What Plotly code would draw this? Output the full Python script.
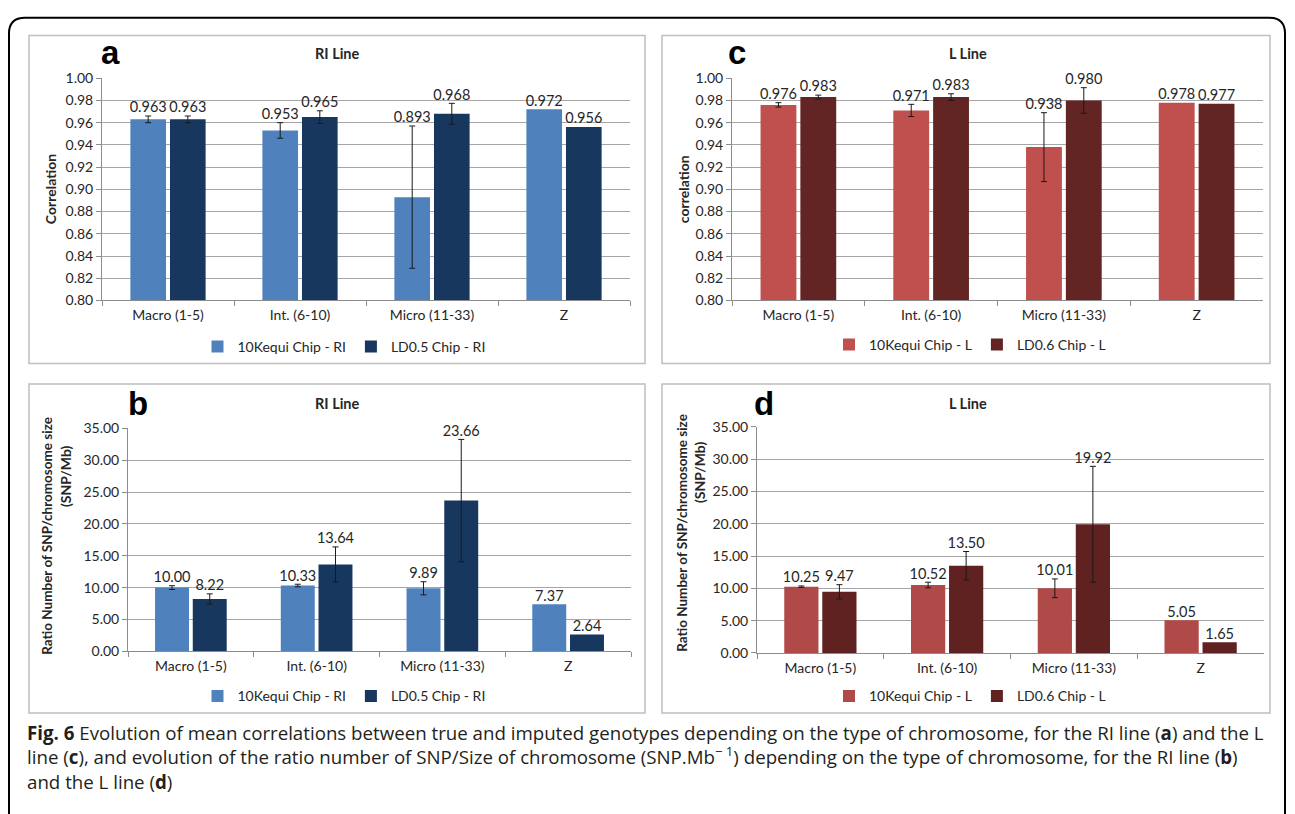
import plotly.graph_objects as go

W, H = 1295, 814

categories = ["Macro (1-5)", "Int. (6-10)", "Micro (11-33)", "Z"]

# ошибки заданы только для первых трёх групп: у Z усов нет

# a - RI line, correlation
corr_ri_10k = [0.963, 0.953, 0.893, 0.972]
corr_ri_10k_err = [0.003, 0.007, 0.064]
corr_ri_ld = [0.963, 0.965, 0.968, 0.956]
corr_ri_ld_err = [0.003, 0.0057, 0.0094]

# c - L line, correlation
corr_l_10k = [0.976, 0.971, 0.938, 0.978]
corr_l_10k_err = [0.002, 0.0055, 0.031]
corr_l_ld = [0.983, 0.983, 0.980, 0.977]
corr_l_ld_err = [0.0018, 0.003, 0.0115]

# b - RI line, SNP/Mb
ratio_ri_10k = [10.00, 10.33, 9.89, 7.37]
ratio_ri_10k_err = [0.3, 0.2, 1.03]
ratio_ri_ld = [8.22, 13.64, 23.66, 2.64]
ratio_ri_ld_err = [0.8, 2.75, 9.6]

# d - L line, SNP/Mb
ratio_l_10k = [10.25, 10.52, 10.01, 5.05]
ratio_l_10k_err = [0.12, 0.43, 1.45]
ratio_l_ld = [9.47, 13.50, 19.92, 1.65]
ratio_l_ld_err = [1.1, 2.2, 8.96]

TXT = "#262626"
AXIS = "#8c8c8c"
GRID = "#a6a6a6"
FONT = "Lato"


def fx(p):
    return p / W


def fy(p):
    return 1 - p / H


# панели: буква, заголовок, серии, оформление осей
panels = [
    dict(letter="a", title="RI Line", sfx="", leg="legend",
         series=[("10Kequi Chip - RI", corr_ri_10k, corr_ri_10k_err, "#4f81bd"),
                 ("LD0.5 Chip - RI", corr_ri_ld, corr_ri_ld_err, "#17375e")],
         fmt="{:.3f}", yrange=[0.8, 1.0], dtick=0.02,
         xdom=(102, 630), ydom=(70.7, 297.7), box=(29, 27, 645, 362),
         letter_xy=(110, 44), title_xy=(337, 45), leg_xy=(344, 345),
         ytitle=[("Correlation", 50, 184)]),
    dict(letter="b", title="RI Line", sfx="2", leg="legend2",
         series=[("10Kequi Chip - RI", ratio_ri_10k, ratio_ri_10k_err, "#4f81bd"),
                 ("LD0.5 Chip - RI", ratio_ri_ld, ratio_ri_ld_err, "#17375e")],
         fmt="{:.2f}", yrange=[0, 35], dtick=5,
         xdom=(128, 631), ydom=(428.3, 656), box=(29, 383, 645, 719),
         letter_xy=(138, 403), title_xy=(337, 403), leg_xy=(344, 702),
         ytitle=[("Ratio Number of SNP/chromosome size", 47, 538), ("(SNP/Mb)", 65, 477)]),
    dict(letter="c", title="L Line", sfx="3", leg="legend3",
         series=[("10Kequi Chip - L", corr_l_10k, corr_l_10k_err, "#c0504d"),
                 ("LD0.6 Chip - L", corr_l_ld, corr_l_ld_err, "#632523")],
         fmt="{:.3f}", yrange=[0.8, 1.0], dtick=0.02,
         xdom=(732, 1263), ydom=(70.7, 297.7), box=(662, 27, 1270, 362),
         letter_xy=(737, 44), title_xy=(968, 45), leg_xy=(970, 343),
         ytitle=[("correlation", 683, 184)]),
    dict(letter="d", title="L Line", sfx="4", leg="legend4",
         series=[("10Kequi Chip - L", ratio_l_10k, ratio_l_10k_err, "#b04a48"),
                 ("LD0.6 Chip - L", ratio_l_ld, ratio_l_ld_err, "#602221")],
         fmt="{:.2f}", yrange=[0, 35], dtick=5,
         xdom=(757, 1264), ydom=(426.7, 657.7), box=(662, 383, 1270, 719),
         letter_xy=(764, 403), title_xy=(968, 403), leg_xy=(970, 702),
         ytitle=[("Ratio Number of SNP/chromosome size", 682, 535), ("(SNP/Mb)", 699, 473)]),
]

fig = go.Figure()
layout = dict(
    width=W, height=H, margin=dict(l=0, r=0, t=0, b=0),
    paper_bgcolor="white", plot_bgcolor="white",
    barmode="group", bargap=0.4, bargroupgap=0.1,
    scattermode="group", scattergap=0.4,
    font=dict(family=FONT, size=14, color=TXT),
)
annotations = []
shapes = []

for p in panels:
    xa, ya = "x" + p["sfx"], "y" + p["sfx"]
    for name, vals, err, color in p["series"]:
        fig.add_trace(go.Bar(
            x=categories, y=vals, name=name, marker_color=color,
            marker_line_width=0,
            error_y=dict(type="data", array=err, color="#1a1a1a", thickness=1, width=3),
            xaxis=xa, yaxis=ya, legend=p["leg"],
        ))
    # подписи значений над столбцом/усом
    for name, vals, err, color in p["series"]:
        tops = [v + (err[i] if i < len(err) else 0) for i, v in enumerate(vals)]
        fig.add_trace(go.Scatter(
            x=categories, y=tops, mode="text",
            text=[p["fmt"].format(v) for v in vals],
            textposition="top center",
            textfont=dict(family=FONT, size=14.5, color=TXT),
            showlegend=False, hoverinfo="skip",
            xaxis=xa, yaxis=ya, cliponaxis=False,
        ))

    layout["xaxis" + p["sfx"]] = dict(
        domain=[fx(p["xdom"][0]), fx(p["xdom"][1])], anchor=ya,
        type="category", tickson="boundaries", ticks="outside", ticklen=5,
        tickcolor=AXIS, showline=True, linecolor=AXIS, linewidth=1,
        showgrid=False, ticklabelstandoff=2,
        tickfont=dict(family=FONT, size=14, color=TXT),
    )
    layout["yaxis" + p["sfx"]] = dict(
        domain=[fy(p["ydom"][1]), fy(p["ydom"][0])], anchor=xa,
        range=p["yrange"], dtick=p["dtick"], tickformat=".2f",
        showgrid=True, gridcolor=GRID, gridwidth=1.2,
        showline=True, linecolor=AXIS, linewidth=1,
        ticks="outside", ticklen=5, tickcolor=AXIS, zeroline=False,
        tickfont=dict(family=FONT, size=14, color=TXT),
    )
    layout[p["leg"]] = dict(
        orientation="h", x=fx(p["leg_xy"][0]), y=fy(p["leg_xy"][1]),
        xanchor="center", yanchor="middle", bgcolor="rgba(0,0,0,0)",
        font=dict(family=FONT, size=14, color=TXT),
        itemwidth=30, tracegroupgap=0,
    )

    annotations.append(dict(
        text="<b>" + p["letter"] + "</b>", x=fx(p["letter_xy"][0]), y=fy(p["letter_xy"][1]),
        xref="paper", yref="paper", showarrow=False, xanchor="center", yanchor="middle",
        font=dict(family="Liberation Sans", size=33, color="black"),
    ))
    annotations.append(dict(
        text="<b>" + p["title"] + "</b>", x=fx(p["title_xy"][0]), y=fy(p["title_xy"][1]),
        xref="paper", yref="paper", showarrow=False, xanchor="center", yanchor="middle",
        font=dict(family=FONT, size=14.5, color=TXT),
    ))
    for t, tx, ty in p["ytitle"]:
        annotations.append(dict(
            text="<b>" + t + "</b>", x=fx(tx), y=fy(ty), textangle=-90,
            xref="paper", yref="paper", showarrow=False, xanchor="center", yanchor="middle",
            font=dict(family=FONT, size=14 if len(t) < 15 else 13.5, color=TXT),
        ))
    bx0, by0, bx1, by1 = p["box"]
    shapes.append(dict(
        type="rect", xref="paper", yref="paper",
        x0=fx(bx0), x1=fx(bx1), y0=fy(by1), y1=fy(by0),
        line=dict(color="#bfbfbf", width=1.5), fillcolor="rgba(0,0,0,0)", layer="below",
    ))

# внешняя рамка со скруглёнными углами (низ уходит за край)
ox0, oy0, ox1, oyb, r = 9, 9, 1285, 840, 16
path = (f"M {fx(ox0)},{fy(oyb)} L {fx(ox0)},{fy(oy0 + r)} "
        f"Q {fx(ox0)},{fy(oy0)} {fx(ox0 + r)},{fy(oy0)} "
        f"L {fx(ox1 - r)},{fy(oy0)} Q {fx(ox1)},{fy(oy0)} {fx(ox1)},{fy(oy0 + r)} "
        f"L {fx(ox1)},{fy(oyb)}")
shapes.append(dict(type="path", xref="paper", yref="paper", path=path,
                   line=dict(color="black", width=2)))

caption = [
    "<b>Fig. 6</b> Evolution of mean correlations between true and imputed genotypes depending on the type of chromosome, for the RI line (<b>a</b>) and the L",
    "line (<b>c</b>), and evolution of the ratio number of SNP/Size of chromosome (SNP.Mb<sup>− 1</sup>) depending on the type of chromosome, for the RI line (<b>b</b>)",
    "and the L line (<b>d</b>)",
]
annotations.append(dict(
    text="<br>".join(caption), x=fx(25), y=fy(724), xref="paper", yref="paper",
    showarrow=False, xanchor="left", yanchor="top", align="left",
    font=dict(family="Open Sans", size=18.7, color="#231f20"),
))

layout["annotations"] = annotations
layout["shapes"] = shapes
fig.update_layout(**layout)

# фигура прибита к левому верхнему углу окна, без отступов страницы
pin = ("document.body.style.margin='0';"
       "var d=document.getElementById('{plot_id}');"
       "d.style.position='fixed';d.style.left='0';d.style.top='0';")
fig.write_html("out.html", config={"displayModeBar": False}, post_script=pin)
